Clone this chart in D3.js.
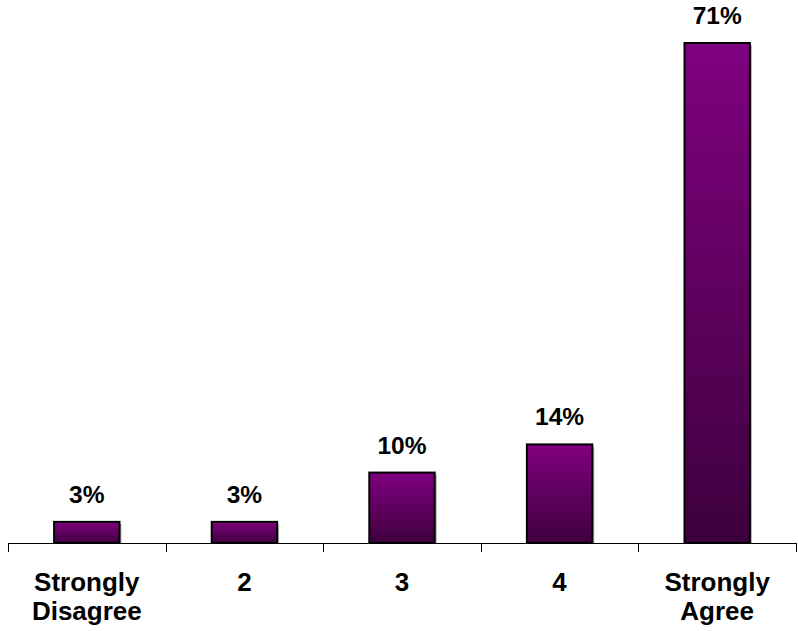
<!DOCTYPE html>
<html><head><meta charset="utf-8">
<script src="https://cdn.jsdelivr.net/npm/d3@7"></script>
<style>body{margin:0;background:#fff}svg{display:block}</style>
</head><body><svg id="c" width="798" height="631"></svg>
<script>
const categories = [["Strongly","Disagree"],["2"],["3"],["4"],["Strongly","Agree"]];
const values = [3, 3, 10, 14, 71];
const valueLabels = ["3%","3%","10%","14%","71%"];

const svg = d3.select("#c");
const axisY = 543, left = 8, right = 796;
const x = d3.scaleBand().domain(d3.range(values.length)).range([left, right]).paddingInner(0).paddingOuter(0);
const y = d3.scaleLinear().domain([0, 71]).range([axisY, 43]);
const barW = x.bandwidth() * 0.415;

const defs = svg.append("defs");
const g = defs.append("linearGradient").attr("id","grad").attr("x1",0).attr("y1",0).attr("x2",0).attr("y2",1);
g.append("stop").attr("offset","0%").attr("stop-color","#800080");
g.append("stop").attr("offset","100%").attr("stop-color","#3d003d");

// shadows
svg.selectAll("rect.sh").data(values).join("rect").attr("class","sh")
  .attr("x", (d,i)=> x(i) + x.bandwidth()/2 - barW/2 + 2)
  .attr("y", d=> y(d) + 2)
  .attr("width", barW).attr("height", d=> axisY - y(d) - 2)
  .attr("fill","#b0b0b0");

svg.selectAll("rect.bar").data(values).join("rect").attr("class","bar")
  .attr("x", (d,i)=> x(i) + x.bandwidth()/2 - barW/2)
  .attr("y", d=> y(d))
  .attr("width", barW).attr("height", d=> axisY - y(d))
  .attr("fill","url(#grad)").attr("stroke","#000").attr("stroke-width",2);

// axis
svg.append("line").attr("x1",left).attr("x2",right).attr("y1",axisY+0.5).attr("y2",axisY+0.5).attr("stroke","#000").attr("stroke-width",1);
const tickPos = d3.range(values.length).map(i=>x(i)).concat([right]);
svg.selectAll("line.tick").data(tickPos).join("line").attr("class","tick")
  .attr("x1",d=>Math.round(d)+0.5).attr("x2",d=>Math.round(d)+0.5).attr("y1",axisY).attr("y2",axisY+9)
  .attr("stroke","#000");

// value labels
svg.selectAll("text.val").data(values).join("text").attr("class","val")
  .attr("x",(d,i)=> x(i)+x.bandwidth()/2)
  .attr("y", d=> y(d) - 19)
  .attr("text-anchor","middle")
  .style("font-family","Liberation Sans, Arial, sans-serif").style("font-weight","bold").style("font-size","24.5px")
  .text((d,i)=>valueLabels[i]);

// category labels
const cat = svg.selectAll("text.cat").data(categories).join("text").attr("class","cat")
  .attr("x",(d,i)=> x(i)+x.bandwidth()/2)
  .attr("y", 591)
  .attr("text-anchor","middle")
  .style("font-family","Liberation Sans, Arial, sans-serif").style("font-weight","bold").style("font-size","26px");
cat.selectAll("tspan").data(d=>d).join("tspan")
  .attr("x", function(){ return d3.select(this.parentNode).attr("x"); })
  .attr("dy",(d,j)=> j===0 ? 0 : 29)
  .text(d=>d);
</script></body></html>
